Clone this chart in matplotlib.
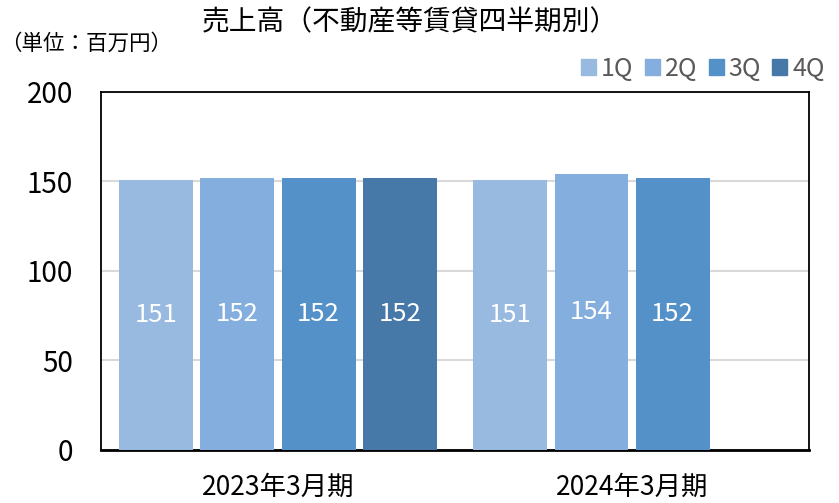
import matplotlib.pyplot as plt
from matplotlib.patches import Patch
import numpy as np

plt.rcParams['font.family'] = ['Noto Sans CJK JP', 'DejaVu Sans']

periods = ['2023年3月期', '2024年3月期']
quarters = ['1Q', '2Q', '3Q', '4Q']
# sales per quarter, None where not yet reported
sales = {
    '1Q': [151, 151],
    '2Q': [152, 154],
    '3Q': [152, 152],
    '4Q': [152, None],
}
colors = ['#98B9E0', '#84AEDD', '#5391C8', '#4679A8']

fig = plt.figure(figsize=(8.39, 5.03), dpi=100)
ax = fig.add_axes([0.1204, 0.1054, 0.8439, 0.7117])

x = np.arange(len(periods))
slot = 0.229
width = 0.209
for i, q in enumerate(quarters):
    vals = sales[q]
    xs = [x[j] + (i - 1.5) * slot for j in range(len(vals)) if vals[j] is not None]
    hs = [v for v in vals if v is not None]
    bars = ax.bar(xs, hs, width, color=colors[i], zorder=3)
    for b, v in zip(bars, hs):
        ax.text(b.get_x() + b.get_width() / 2, v / 2, str(v), ha='center', va='center',
                color='white', fontsize=18.5, zorder=4)

ax.set_xlim(-0.5, 1.5)
ax.set_ylim(0, 200)
ax.set_yticks([0, 50, 100, 150, 200])
ax.yaxis.grid(True, color='#D9D9D9', linewidth=1.5, zorder=0)
ax.set_axisbelow(True)
ax.tick_params(axis='y', length=0, labelsize=20, pad=20)
ax.set_xticks(x)
ax.set_xticklabels(periods, fontsize=19)
ax.tick_params(axis='x', length=0, pad=17)
for s in ax.spines.values():
    s.set_color('black')
    s.set_linewidth(1.3)
ax.spines['bottom'].set_linewidth(2)

fig.text(0.488, 0.955, '売上高（不動産等賃貸四半期別）', ha='center', va='center', fontsize=20)
fig.text(0.0, 0.912, '（単位：百万円）', ha='left', va='center', fontsize=15.5)

handles = [Patch(color=c, label=q) for c, q in zip(colors, quarters)]
leg = fig.legend(handles=handles, loc='center right', bbox_to_anchor=(1.01, 0.863), ncol=4,
                 frameon=False, fontsize=18, handlelength=0.6, handleheight=0.6,
                 handletextpad=0.2, columnspacing=0.45)
for t in leg.get_texts():
    t.set_color('#595959')

fig.savefig('out.png', dpi=100)
